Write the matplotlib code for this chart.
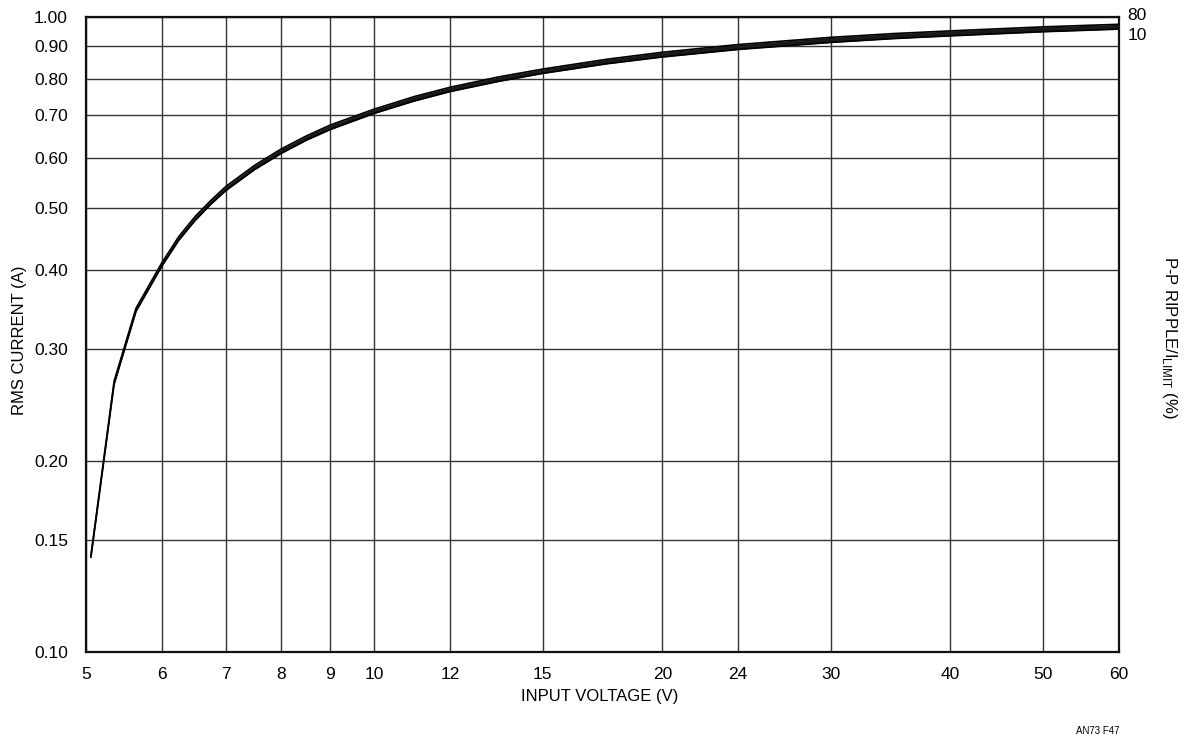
import numpy as np
import matplotlib
matplotlib.use("Agg")
import matplotlib.pyplot as plt
from matplotlib.ticker import FixedLocator, NullLocator

plt.rcParams['font.family'] = ['Liberation Sans', 'DejaVu Sans']
plt.rcParams['mathtext.fontset'] = 'custom'
plt.rcParams['mathtext.rm'] = 'Liberation Sans'

# input voltage (V)
vin = [5.06, 5.35, 5.64, 6.0, 6.25, 6.5, 6.75, 7.0, 7.5, 8.0, 8.5, 9.0, 10, 11,
       12, 13.5, 15, 17.5, 20, 24, 30, 35, 40, 50, 60]
# RMS current (A) for 10% and 80% p-p ripple
irms_10 = [0.141, 0.264, 0.344, 0.405, 0.445, 0.478, 0.507, 0.533, 0.575, 0.610,
           0.640, 0.665, 0.705, 0.737, 0.763, 0.792, 0.815, 0.844, 0.865, 0.889,
           0.912, 0.925, 0.934, 0.948, 0.957]
irms_80 = [0.142, 0.267, 0.348, 0.410, 0.451, 0.485, 0.514, 0.541, 0.584, 0.620,
           0.650, 0.676, 0.716, 0.749, 0.775, 0.805, 0.828, 0.858, 0.880, 0.905,
           0.929, 0.942, 0.951, 0.965, 0.974]

xticks = [5, 6, 7, 8, 9, 10, 12, 15, 20, 24, 30, 40, 50, 60]
yticks = [0.10, 0.15, 0.20, 0.30, 0.40, 0.50, 0.60, 0.70, 0.80, 0.90, 1.00]

fig = plt.figure(figsize=(11.94, 7.43), dpi=100)
ax = fig.add_axes([0.0720, 0.1225, 0.8652, 0.8546])

ax.set_xscale('log')
ax.set_yscale('log')
ax.set_xlim(5, 60)
ax.set_ylim(0.1, 1.0)

ax.xaxis.set_major_locator(FixedLocator(xticks))
ax.xaxis.set_minor_locator(NullLocator())
ax.set_xticklabels([str(t) for t in xticks])
ax.yaxis.set_major_locator(FixedLocator(yticks))
ax.yaxis.set_minor_locator(NullLocator())
ax.set_yticklabels(["%.2f" % t for t in yticks])
ax.tick_params(length=0, labelsize=12.5)
ax.tick_params(axis='x', pad=11)
ax.tick_params(axis='y', pad=13)

ax.grid(True, color='#333333', lw=1.0)
for s in ax.spines.values():
    s.set_linewidth(1.6)
    s.set_color('#111111')

ax.fill_between(vin, irms_10, irms_80, color='#1a1a1a', lw=0, zorder=3)
ax.plot(vin, irms_10, color='black', lw=1.2, zorder=4)
ax.plot(vin, irms_80, color='black', lw=1.2, zorder=4)

ax.text(1.008, 1.002, "80", transform=ax.transAxes,
        fontsize=12.5, va='center', ha='left')
ax.text(1.008, 0.971, "10", transform=ax.transAxes,
        fontsize=12.5, va='center', ha='left')

fig.text(20 / 1194, 1 - 340 / 743, "RMS CURRENT (A)", rotation=90,
         ha='center', va='center', fontsize=12)
fig.text(600 / 1194, 1 - 697 / 743, "INPUT VOLTAGE (V)",
         ha='center', va='center', fontsize=12)
fig.text(1170 / 1194, 1 - 337 / 743, r"P-P RIPPLE/I$_{\mathregular{LIMIT}}$ (%)",
         rotation=-90, ha='center', va='center', fontsize=12)
fig.text(1098 / 1194, 1 - 731 / 743, "AN73 F47", ha='center', va='center',
         fontsize=7)

fig.savefig("out.png", dpi=100)
